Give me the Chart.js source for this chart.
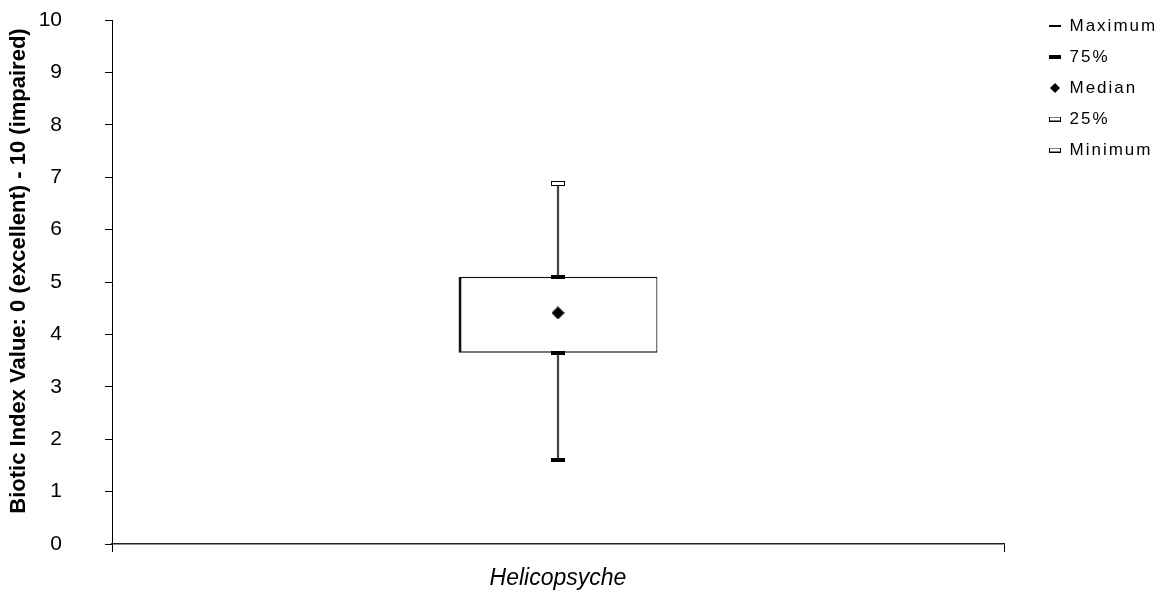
<!DOCTYPE html>
<html><head><meta charset="utf-8">
<script src="https://cdn.jsdelivr.net/npm/chart.js@4.4.1/dist/chart.umd.min.js"></script>
<style>html,body{margin:0;padding:0;background:#fff;} #wrap{width:1171px;height:593px;position:relative;}</style>
</head><body><div id="wrap"><canvas id="c"></canvas></div>
<script>
// ---- data ----
const categories = ['Helicopsyche'];
const seriesNames = ['Maximum', '75%', 'Median', '25%', 'Minimum'];
const maximumValues = [6.88];
const q3Values = [5.10];
const medianValues = [4.41];
const q1Values = [3.65];
const minimumValues = [1.60];
const yMin = 0, yMax = 10, yStep = 1;
const yAxisTitle = 'Biotic Index Value: 0 (excellent) - 10 (impaired)';

// ---- marker images ----
function mk(w, h, draw) { const c = document.createElement('canvas'); c.width = w; c.height = h; draw(c.getContext('2d'), w, h); return c; }
const filledBar = (w, h) => mk(w, h, (x) => { x.fillStyle = '#000'; x.fillRect(0, 0, w, h); });
const hollowBar = (w, h) => mk(w, h, (x) => { x.fillStyle = '#fff'; x.fillRect(0, 0, w, h); x.strokeStyle = '#000'; x.lineWidth = 1; x.strokeRect(0.5, 0.5, w - 1, h - 1); });
const diamond = (s) => mk(s, s, (x) => { x.fillStyle = '#000'; x.beginPath(); x.moveTo(s / 2, 0); x.lineTo(s, s / 2); x.lineTo(s / 2, s); x.lineTo(0, s / 2); x.closePath(); x.fill(); });

const chartMarkers = [hollowBar(14, 5), filledBar(14, 4), diamond(13), filledBar(14, 4), filledBar(14, 4)];
const legendMarkers = [filledBar(12, 2), filledBar(12, 4), diamond(10), hollowBar(12, 5), hollowBar(12, 5)];

const FONT = "'Liberation Sans', Arial, sans-serif";
const markerSeries = [maximumValues, q3Values, medianValues, q1Values, minimumValues];

const markerDatasets = markerSeries.map((vals, i) => ({
  type: 'line', label: seriesNames[i], data: vals, showLine: false,
  pointStyle: chartMarkers[i], pointRadius: 7, order: 1,
  borderColor: '#000', backgroundColor: '#000'
}));

const LEGEND_W = 167, LEGEND_SHIFT_X = 31, LEGEND_FIRST_Y = 26, LEGEND_PAD = 14, LEGEND_FONT = 17;
const TITLE_SHIFT_Y = 11;

const tweak = {
  id: 'tweak',
  beforeLayout(chart) {
    const lg = chart.legend;
    if (lg && !lg._tw) {
      lg._tw = true;
      const f = lg.fit, d = lg.draw;
      lg.fit = function () { const c = this.ctx; c.letterSpacing = '2px'; f.call(this); c.letterSpacing = '0px'; this.width = LEGEND_W; };
      lg.draw = function (a) {
        const c = this.ctx; const l = this.left, t = this.top;
        c.letterSpacing = '2px';
        this.left = l + LEGEND_SHIFT_X;
        this.top = LEGEND_FIRST_Y - LEGEND_PAD - LEGEND_FONT / 2;
        d.call(this, a);
        this.left = l; this.top = t;
        c.letterSpacing = '0px';
      };
    }
    const ys = chart.scales && chart.scales.y;
    if (ys && !ys._tw && typeof ys.drawTitle === 'function') {
      ys._tw = true;
      const dt = ys.drawTitle;
      ys.drawTitle = function (...args) {
        const t = this.top, b = this.bottom;
        this.top = t - TITLE_SHIFT_Y; this.bottom = b - TITLE_SHIFT_Y;
        dt.apply(this, args);
        this.top = t; this.bottom = b;
      };
    }
  }
};

new Chart(document.getElementById('c'), {
  type: 'bar',
  data: {
    labels: categories,
    datasets: [
      ...markerDatasets,
      {
        type: 'bar', label: 'box', data: categories.map((c, i) => [q1Values[i], q3Values[i]]),
        backgroundColor: '#fff', borderColor: '#111',
        borderWidth: { left: 3, top: 1.5, right: 1.2, bottom: 1.5 }, borderSkipped: false,
        grouped: false, barPercentage: 0.223, categoryPercentage: 1, order: 2
      },
      {
        type: 'bar', label: 'whisker', data: categories.map((c, i) => [minimumValues[i], maximumValues[i]]),
        backgroundColor: '#444', borderWidth: 0, grouped: false, barThickness: 1.6, order: 3
      }
    ]
  },
  options: {
    responsive: true, maintainAspectRatio: false, animation: false, events: [],
    layout: { padding: { left: 0, right: 0, top: 20, bottom: 0 } },
    plugins: {
      tooltip: { enabled: false },
      legend: {
        position: 'right', align: 'start',
        labels: {
          usePointStyle: true, boxWidth: 12, boxHeight: 12, padding: LEGEND_PAD, color: '#000',
          font: { family: FONT, size: LEGEND_FONT },
          generateLabels(chart) {
            const items = Chart.defaults.plugins.legend.labels.generateLabels(chart);
            return items.filter(it => it.datasetIndex < 5).map(it => ({ ...it, pointStyle: legendMarkers[it.datasetIndex] }));
          }
        }
      }
    },
    scales: {
      x: {
        offset: true,
        grid: { display: true, offset: true, drawOnChartArea: false, drawTicks: true, tickLength: 8, color: '#000' },
        border: { display: true, color: '#222', width: 1.5 },
        ticks: { color: '#000', font: { family: FONT, size: 23, style: 'italic' }, padding: 13, maxRotation: 0 },
        afterFit(s) { s.height = 49; }
      },
      y: {
        min: yMin, max: yMax,
        ticks: { stepSize: yStep, color: '#000', font: { family: FONT, size: 21 }, padding: 3, autoSkip: false },
        grid: { drawOnChartArea: false, tickLength: 47, tickBorderDash: [0, 40, 7, 200], color: '#000' },
        border: { display: true, color: '#000', width: 1 },
        title: { display: true, text: yAxisTitle, color: '#000', font: { family: FONT, size: 22, weight: 'bold' }, padding: { top: 6, bottom: 0 } },
        afterFit(s) { s.width = 112; }
      }
    }
  },
  plugins: [tweak]
});
</script>
</body></html>
